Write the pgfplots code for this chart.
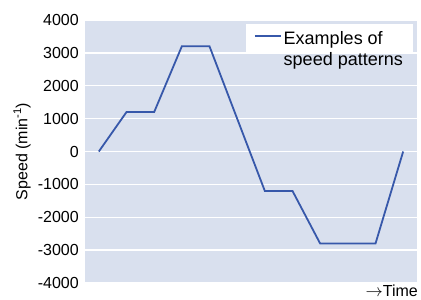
\documentclass[border=0pt]{standalone}
\usepackage{pgfplots}
\pgfplotsset{compat=1.18}
\usepackage{fontspec}
\setmainfont{Liberation Sans}
\definecolor{bg}{RGB}{217,224,238}
\definecolor{ln}{RGB}{55,88,170}
\begin{document}
\begin{tikzpicture}
\useasboundingbox (0,0) rectangle (421pt,300pt);
\begin{axis}[
  at={(85pt,17pt)}, anchor=south west,
  scale only axis, width=332pt, height=263pt,
  xmin=-0.5, xmax=11.5, ymin=-4000, ymax=4000,
  ytick={-4000,-3000,...,4000},
  xtick=\empty,
  axis line style={draw=none},
  major tick length=0pt,
  axis background/.style={fill=bg},
  ymajorgrids, grid style={white, line width=1.3pt},
  /pgf/number format/assume math mode=true,
  /pgf/number format/1000 sep={},
  yticklabel style={font=\fontsize{16}{19}\selectfont, anchor=east, inner sep=0pt, xshift=-6pt},
  ylabel={Speed (min\textsuperscript{-1})},
  ylabel style={font=\fontsize{16}{19}\selectfont, at={(axis description cs:-0.163,0.5)}, anchor=south, inner sep=0pt},
  xlabel={$\rightarrow$Time},
  xlabel style={font=\fontsize{16}{19}\selectfont, at={(rel axis cs:1.003,0)}, anchor=base east, inner sep=0pt, yshift=-14pt},
  legend style={draw=none, fill=white, at={(rel axis cs:0.988,0.985)}, anchor=north east,
    font=\fontsize{18}{21}\selectfont, inner xsep=8pt, inner ysep=4pt},
  legend image code/.code={\draw[ln, line width=1.8pt] (0pt,2.5pt) -- (26pt,2.5pt);},
  legend cell align=left,
]
\addplot[ln, line width=1.8pt] coordinates {
 (0,0) (1,1200) (2,1200) (3,3200) (4,3200) (6,-1200) (7,-1200) (8,-2800) (10,-2800) (11,0)
};
\addlegendentry{\begin{tabular}[t]{@{}l@{}}Examples of\\speed patterns\end{tabular}}
\end{axis}
\end{tikzpicture}
\end{document}
